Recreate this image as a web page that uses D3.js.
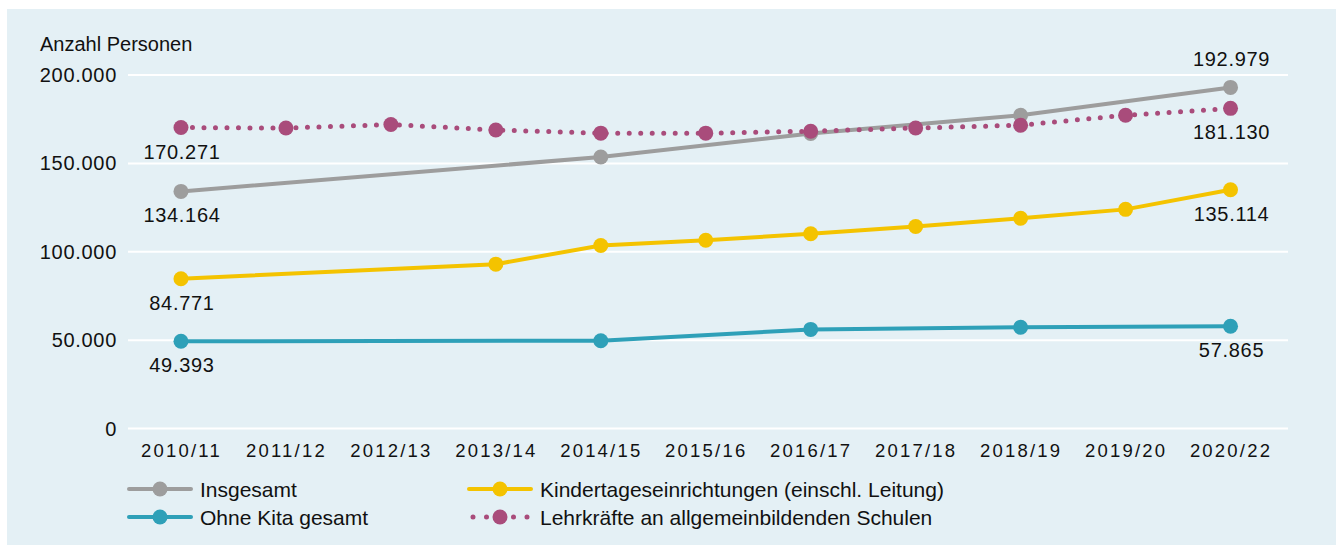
<!DOCTYPE html>
<html>
<head>
<meta charset="utf-8">
<script src="https://cdn.jsdelivr.net/npm/d3@7"></script>
<style>
  body { margin: 0; background: #fff; }
  text { font-family: "Liberation Sans", Arial, sans-serif; fill: #111; }
</style>
</head>
<body>
<div id="chart"></div>
<script>
'use strict';

// data
const years = ['2010/11', '2011/12', '2012/13', '2013/14', '2014/15', '2015/16',
  '2016/17', '2017/18', '2018/19', '2019/20', '2020/22'];
const yTicks = [0, 50000, 100000, 150000, 200000];

const insgesamt = [134164, null, null, null, 153600, null, 166900, null, 177200, null, 192979];
const kita = [84771, null, null, 93000, 103600, 106500, 110200, 114300, 119000, 124000, 135114];
const ohneKita = [49393, null, null, null, 49700, null, 56100, null, 57300, null, 57865];
const lehrkraefte = [170271, 170000, 172000, 168900, 167100, 167100, 168200, 170000, 171600, 177200, 181130];

const series = [
  { name: 'Insgesamt', values: insgesamt, color: '#9d9d9d', dotted: false },
  { name: 'Kindertageseinrichtungen (einschl. Leitung)', values: kita, color: '#f4c300', dotted: false },
  { name: 'Ohne Kita gesamt', values: ohneKita, color: '#2ea0b8', dotted: false },
  { name: 'Lehrkräfte an allgemeinbildenden Schulen', values: lehrkraefte, color: '#a94c7b', dotted: true }
];

// which end values get a label and where (below / above the point)
const endLabels = [
  { s: 3, i: 0, pos: 'below' }, { s: 0, i: 0, pos: 'below' },
  { s: 1, i: 0, pos: 'below' }, { s: 2, i: 0, pos: 'below' },
  { s: 0, i: 10, pos: 'above' }, { s: 3, i: 10, pos: 'below' },
  { s: 1, i: 10, pos: 'below' }, { s: 2, i: 10, pos: 'below' }
];

const width = 1336;
const height = 545;

const svg = d3.select('#chart').append('svg')
  .attr('width', width)
  .attr('height', height);

// panel background
svg.append('rect')
  .attr('x', 7).attr('y', 9)
  .attr('width', width - 7).attr('height', height - 9)
  .attr('fill', '#e4f0f5');

const gridLeft = 128;
const gridRight = 1288;

const x = d3.scalePoint()
  .domain(years)
  .range([128.5, 1283])
  .padding(0.5);

const y = d3.scaleLinear()
  .domain([0, 200000])
  .range([428.6, 75]);

const fmt = d3.formatLocale({ decimal: ',', thousands: '.', grouping: [3], currency: ['', '€'] }).format(',d');

// gridlines
svg.append('g').selectAll('line')
  .data(yTicks)
  .join('line')
  .attr('x1', gridLeft).attr('x2', gridRight)
  .attr('y1', d => y(d)).attr('y2', d => y(d))
  .attr('stroke', '#fff')
  .attr('stroke-width', 2);

// y axis labels
const yAxis = d3.axisLeft(y).tickValues(yTicks).tickSize(0).tickPadding(0).tickFormat(fmt);
svg.append('g')
  .attr('transform', 'translate(117,0)')
  .call(yAxis)
  .call(g => g.select('.domain').remove())
  .selectAll('text')
  .attr('font-size', 20)
  .attr('letter-spacing', 0.7)
  .attr('fill', '#111')
  .style('font-family', '"Liberation Sans", Arial, sans-serif');

svg.append('text')
  .attr('x', 40).attr('y', 51)
  .attr('font-size', 20)
  .text('Anzahl Personen');

// x axis labels
const xAxis = d3.axisBottom(x).tickSize(0).tickPadding(0);
svg.append('g')
  .attr('transform', 'translate(0,444)')
  .call(xAxis)
  .call(g => g.select('.domain').remove())
  .selectAll('text')
  .attr('font-size', 18.5)
  .attr('letter-spacing', 2.2)
  .attr('fill', '#111')
  .style('font-family', '"Liberation Sans", Arial, sans-serif');

const line = d3.line()
  .x(d => x(d.year))
  .y(d => y(d.value));

// lines and markers
series.forEach(s => {
  const pts = years.map((yr, i) => ({ year: yr, value: s.values[i] })).filter(d => d.value !== null);
  const g = svg.append('g');
  g.append('path')
    .datum(pts)
    .attr('d', line)
    .attr('fill', 'none')
    .attr('stroke', s.color)
    .attr('stroke-width', s.dotted ? 5 : 4)
    .attr('stroke-linecap', 'round')
    .attr('stroke-dasharray', s.dotted ? '0 11.5' : null);
  g.selectAll('circle')
    .data(pts)
    .join('circle')
    .attr('cx', d => x(d.year))
    .attr('cy', d => y(d.value))
    .attr('r', 7.5)
    .attr('fill', s.color);
});

// value labels at both ends
svg.append('g').selectAll('text')
  .data(endLabels)
  .join('text')
  .attr('x', d => x(years[d.i]) + 1)
  .attr('y', d => y(series[d.s].values[d.i]) + (d.pos === 'below' ? 31 : -21))
  .attr('text-anchor', 'middle')
  .attr('font-size', 20)
  .attr('letter-spacing', 0.7)
  .text(d => fmt(series[d.s].values[d.i]));

// legend
const legendPos = [[127, 489], [467, 489], [127, 517], [467, 517]];
const legendOrder = [0, 1, 2, 3];
const legend = svg.append('g').selectAll('g')
  .data(legendOrder)
  .join('g')
  .attr('transform', (d, i) => `translate(${legendPos[i][0]},${legendPos[i][1]})`);

legend.append('line')
  .attr('x1', d => series[d].dotted ? 6 : 2)
  .attr('x2', d => series[d].dotted ? 62 : 64)
  .attr('y1', 0).attr('y2', 0)
  .attr('stroke', d => series[d].color)
  .attr('stroke-width', d => series[d].dotted ? 5 : 4)
  .attr('stroke-linecap', 'round')
  .attr('stroke-dasharray', d => series[d].dotted ? '0 13.5' : null);

legend.append('circle')
  .attr('cx', 33)
  .attr('cy', 0)
  .attr('r', 7.5)
  .attr('fill', d => series[d].color);

legend.append('text')
  .attr('x', 73)
  .attr('y', 7.5)
  .attr('font-size', 21)
  .text(d => series[d].name);
</script>
</body>
</html>
